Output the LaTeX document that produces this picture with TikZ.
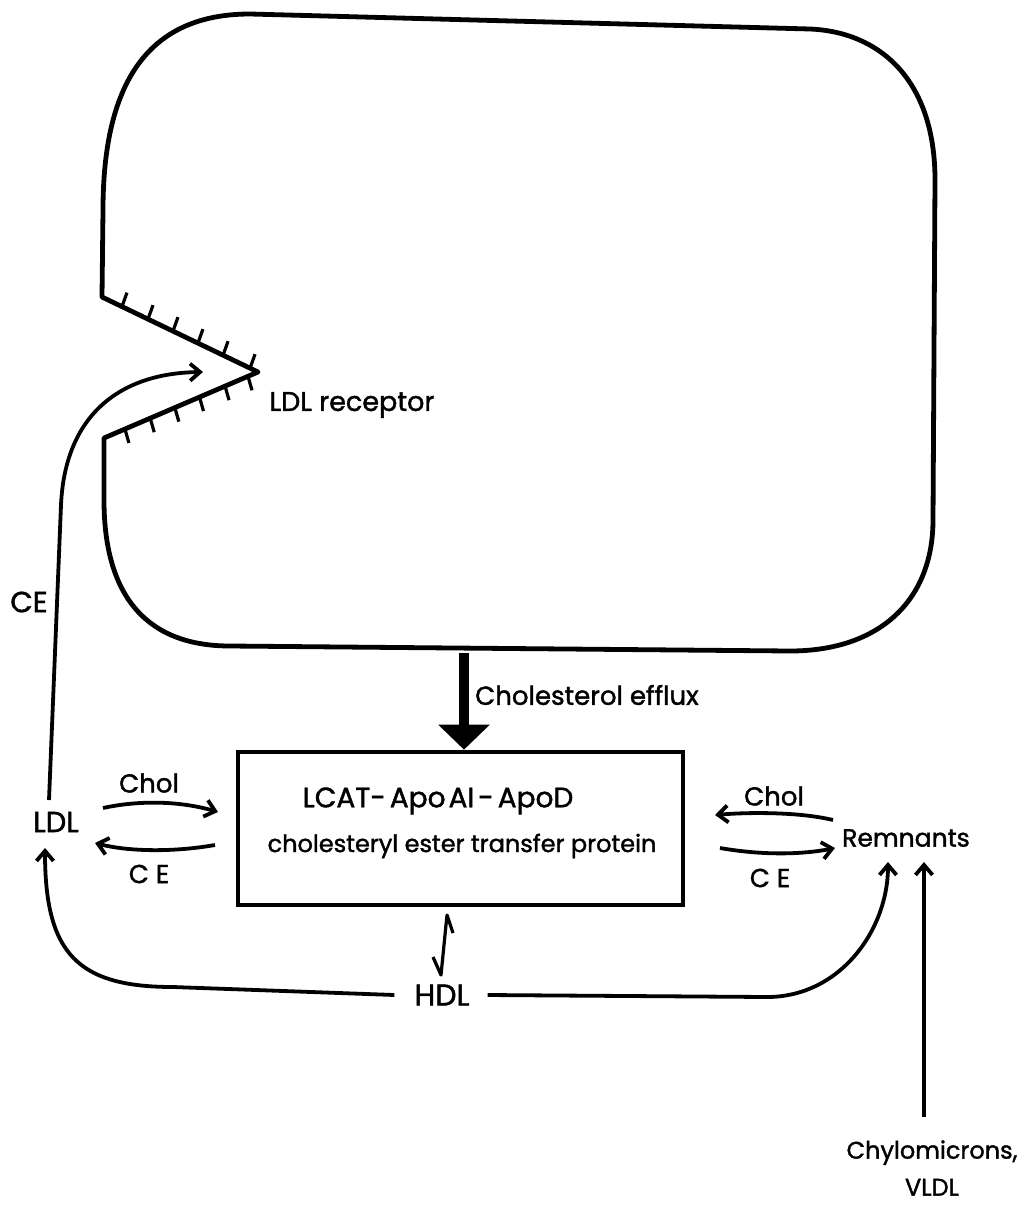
\documentclass[tikz,border=0pt]{standalone}
\usepackage{fontspec}
\setmainfont{Poppins}[FakeBold=1.5]
\usetikzlibrary{arrows.meta,calc}
\begin{document}
\begin{tikzpicture}[x=1pt,y=-1pt,
  cell/.style={line width=4.8pt, line join=round},
  tickmark/.style={line width=3.2pt},
  lbl/.style={inner sep=0pt, font=\fontsize{26}{37}\selectfont},
  flow/.style={line width=3.8pt, -{Straight Barb[length=10pt,width=17pt]}},
  eqline/.style={line width=3.2pt, line join=round},
]
\useasboundingbox (0,0) rectangle (1032,1213);

% cell outline with notch
\coordinate (nt) at (102,297);
\coordinate (tip) at (258,372);
\coordinate (nb) at (104,438);
\draw[cell] (nt) -- (103,210) .. controls (103,80) and (150,14) .. (250,14)
  -- (810,29) .. controls (880,32) and (935,80) .. (935,180)
  -- (933,520) .. controls (933,600) and (880,651) .. (790,651)
  -- (230,646) .. controls (150,646) and (104,600) .. (104,500)
  -- (nb) -- (tip) -- cycle;
\foreach \t in {0.128,0.295,0.455,0.615,0.776,0.949}
  \draw[tickmark] ($(nt)!\t!(tip)$) -- ++(5,-14);
\foreach \t in {0.136,0.3,0.46,0.62,0.786,0.935}
  \draw[tickmark] ($(nb)!\t!(tip)$) -- ++(4,14);
\node[lbl, font=\fontsize{27}{32}\selectfont] (rec) at (352,405) {LDL receptor};

% central box
\node[draw, line width=4.6pt, minimum width=445pt, minimum height=153pt, inner sep=0pt] (box) at (460.5,828.5) {};
\node[lbl, font=\fontsize{28}{34}\selectfont] (lcat) at (438,801) {LCAT-\hspace{4pt}Apo\hspace{3pt}AI\hspace{4pt}-\hspace{4pt}ApoD};
\node[lbl, font=\fontsize{24}{30}\selectfont] (cetp) at (462,846) {cholesteryl ester transfer protein};

% cholesterol efflux
\coordinate (effsrc) at (464,653);
\draw[line width=10pt, -{Triangle[length=25pt,width=50pt]}] (effsrc) -- (effsrc |- box.north);
\node[lbl, anchor=west] (efflux) at (475,695) {Cholesterol efflux};

% LDL side
\node[lbl, font=\fontsize{29}{34}\selectfont] (ldl) at (56,822) {LDL};
\node[lbl] (cholL) at (149,783) {Chol};
\node[lbl] (ceL) at (149,874) {C E};
\coordinate (cl1) at (103,808);
\coordinate (cl2) at (218,812);
\draw[flow] (cl1) .. controls (140,800) and (180,801) .. (cl2);
\coordinate (ce1) at (215,845);
\coordinate (ce2) at (95,843);
\draw[flow] (ce1) .. controls (175,852) and (130,852) .. (ce2);

% LDL to receptor
\coordinate (ldlout) at (49,800);
\coordinate (recin) at (203,372);
\draw[flow] (ldlout) -- (61,505) .. controls (65,415) and (120,373) .. (recin);
\node[lbl, font=\fontsize{29}{34}\selectfont] (ceup) at (29,602) {CE};

% Remnants side
\node[lbl, font=\fontsize{25}{30}\selectfont] (rem) at (906,838) {Remnants};
\node[lbl] (cholR) at (774,796) {Chol};
\node[lbl] (ceR) at (770,878) {C E};
\coordinate (cr1) at (833,820);
\coordinate (cr2) at (715,815);
\draw[flow] (cr1) .. controls (800,812) and (750,812) .. (cr2);
\coordinate (cer1) at (720,848);
\coordinate (cer2) at (835,848);
\draw[flow] (cer1) .. controls (760,855) and (800,855) .. (cer2);

% HDL
\node[lbl, font=\fontsize{30}{36}\selectfont] (hdl) at (442,995) {HDL};
\coordinate (ldlin) at (45,848);
\coordinate (remin) at (888,862);
\draw[flow] ([xshift=-20pt]hdl.west) -- (173,987) .. controls (77,987) and (45,953) .. (ldlin);
\draw[flow] ([xshift=18pt]hdl.east) -- (767,997) .. controls (840,997) and (888,930) .. (remin);
\coordinate (eqa) at (433,957);
\coordinate (eqb) at (441,975);
\coordinate (eqc) at (447,915);
\coordinate (eqd) at (453,933);
\draw[eqline] (eqa) -- (eqb) -- (eqc) -- (eqd);

% Chylomicrons
\node[lbl, align=center, font=\fontsize{24}{37}\selectfont] (chylo) at (932,1168) {Chylomicrons,\\VLDL};
\coordinate (chin) at (924,862);
\coordinate (chout) at (924,1117);
\draw[flow] (chout) -- (chin);
\end{tikzpicture}
\end{document}
